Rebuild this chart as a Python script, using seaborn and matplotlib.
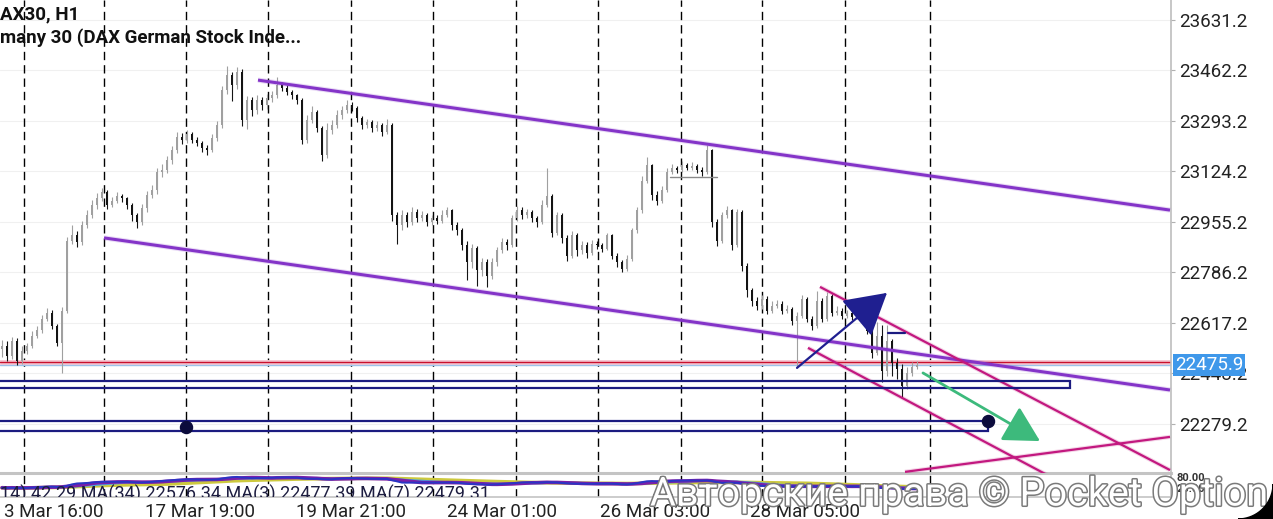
import numpy as np
import pandas as pd
import matplotlib
matplotlib.use("Agg")
import matplotlib.pyplot as plt
import matplotlib.patheffects as pe
from matplotlib.patches import Rectangle, Polygon
import seaborn as sns

# DAX30 H1 candles, one value per bar
first_open = 22530
close = [22541, 22508, 22558, 22491, 22524, 22541, 22575, 22593, 22632, 22652,
         22608, 22551, 22659, 22893, 22910, 22887, 22944, 22977, 23011, 23034,
         23054, 23011, 23027, 23041, 23034, 23011, 22977, 22954, 23001, 23044,
         23061, 23121, 23128, 23161, 23195, 23239, 23229, 23249, 23229, 23219,
         23202, 23195, 23235, 23279, 23396, 23447, 23413, 23457, 23296, 23363,
         23329, 23363, 23346, 23369, 23379, 23413, 23403, 23390, 23379, 23363,
         23229, 23296, 23323, 23269, 23178, 23262, 23279, 23312, 23329, 23346,
         23336, 23302, 23279, 23289, 23269, 23279, 23255, 23279, 22977, 22944,
         22977, 22954, 22987, 22967, 22977, 22954, 22967, 22960, 22980, 22994,
         22944, 22927, 22877, 22820, 22867, 22793, 22820, 22776, 22820, 22860,
         22887, 22877, 22967, 22994, 22977, 22987, 22967, 22954, 23011, 23041,
         22920, 22977, 22900, 22843, 22910, 22860, 22877, 22853, 22883, 22877,
         22866, 22910, 22843, 22820, 22799, 22833, 22927, 22994, 23094, 23145,
         23044, 23027, 23061, 23121, 23135, 23128, 23145, 23135, 23141, 23128,
         23121, 23195, 22954, 22893, 22977, 22994, 22877, 22987, 22809, 22726,
         22692, 22675, 22699, 22659, 22675, 22682, 22659, 22665, 22625, 22642,
         22699, 22632, 22608, 22692, 22632, 22709, 22652, 22659, 22642, 22652,
         22638, 22652, 22632, 22592, 22518, 22575, 22457, 22558, 22484, 22464,
         22407, 22451, 22471, 22475.9]
high = [22560, 22556, 22571, 22566, 22540, 22551, 22590, 22608, 22645, 22668,
        22660, 22615, 22672, 22905, 22945, 22925, 22960, 22995, 23030, 23052,
        23070, 23062, 23040, 23055, 23048, 23040, 23018, 22985, 23015, 23060,
        23078, 23135, 23150, 23175, 23210, 23255, 23252, 23262, 23258, 23238,
        23225, 23212, 23248, 23292, 23410, 23478, 23458, 23475, 23468, 23378,
        23372, 23380, 23372, 23385, 23392, 23440, 23425, 23412, 23398, 23385,
        23370, 23312, 23345, 23330, 23275, 23285, 23295, 23330, 23345, 23362,
        23358, 23345, 23310, 23300, 23298, 23292, 23288, 23300, 23285, 22990,
        22995, 22988, 23005, 22998, 22992, 22985, 22980, 22978, 22995, 23005,
        23000, 22955, 22935, 22890, 22880, 22875, 22835, 22830, 22835, 22872,
        22900, 22898, 22980, 23008, 23005, 22998, 22995, 22975, 23028, 23135,
        23048, 22990, 22985, 22910, 22925, 22918, 22890, 22888, 22895, 22890,
        22885, 22920, 22915, 22850, 22828, 22845, 22935, 23005, 23110, 23172,
        23150, 23060, 23075, 23135, 23148, 23142, 23158, 23152, 23155, 23150,
        23140, 23212, 23200, 22965, 22990, 23010, 23000, 23000, 22995, 22818,
        22735, 22705, 22712, 22708, 22690, 22695, 22690, 22678, 22672, 22655,
        22712, 22705, 22640, 22725, 22700, 22720, 22715, 22675, 22668, 22662,
        22660, 22665, 22660, 22640, 22600, 22620, 22610, 22610, 22565, 22500,
        22480, 22470, 22485, 22490]
low = [22505, 22490, 22497, 22478, 22480, 22512, 22533, 22566, 22585, 22625,
       22598, 22540, 22451, 22650, 22880, 22872, 22878, 22935, 22968, 23000,
       23025, 23000, 23004, 23018, 23022, 22998, 22960, 22935, 22945, 22990,
       23035, 23050, 23105, 23118, 23150, 23185, 23215, 23220, 23218, 23208,
       23190, 23180, 23188, 23225, 23270, 23385, 23360, 23400, 23275, 23265,
       23310, 23318, 23330, 23335, 23358, 23370, 23392, 23380, 23368, 23350,
       23215, 23220, 23288, 23255, 23160, 23170, 23250, 23270, 23300, 23320,
       23325, 23290, 23268, 23270, 23258, 23260, 23242, 23248, 22960, 22880,
       22930, 22940, 22945, 22955, 22958, 22942, 22945, 22948, 22952, 22972,
       22930, 22910, 22860, 22760, 22800, 22742, 22775, 22738, 22765, 22808,
       22850, 22862, 22870, 22960, 22965, 22970, 22955, 22940, 22948, 23005,
       22905, 22910, 22885, 22825, 22835, 22842, 22848, 22835, 22845, 22865,
       22855, 22860, 22830, 22805, 22788, 22792, 22825, 22918, 22985, 23085,
       23030, 23012, 23020, 23055, 23115, 23118, 23122, 23128, 23128, 23120,
       23110, 23115, 22940, 22875, 22885, 22968, 22860, 22870, 22790, 22705,
       22675, 22660, 22665, 22648, 22650, 22668, 22648, 22650, 22612, 22468,
       22635, 22620, 22595, 22600, 22620, 22625, 22640, 22645, 22630, 22635,
       22628, 22630, 22622, 22580, 22500, 22510, 22420, 22440, 22440, 22430,
       22367, 22395, 22440, 22462]

price_ticks = [23631.2, 23462.2, 23293.2, 23124.2, 22955.2, 22786.2, 22617.2, 22448.2, 22279.2]
date_ticks = [10.4, 39.6, 69.8, 100.0, 130.6, 160.6]
date_labels = ["3 Mar 16:00", "17 Mar 19:00", "19 Mar 21:00", "24 Mar 01:00", "26 Mar 03:00", "28 Mar 05:00"]
session_lines = [4.4, 20.4, 36.8, 53.2, 69.8, 86.2, 102.8, 119.2, 135.8, 152.0, 168.6, 185.6]

last_price = 22475.9
ask_price = 22487.0

# user drawings, (bar, price) end points
upper_channel = [(51.2, 23430), (233.6, 22995)]
lower_channel = [(20.4, 22902), (233.6, 22393)]
down_line_a = [(163.6, 22738), (233.6, 22125)]
down_line_b = [(161.2, 22534), (210.0, 22100)]
up_line = [(180.6, 22119), (233.6, 22236)]
zone_a = [(-2, 22400), (213.6, 22423)]
zone_b = [(-2, 22256), (197.2, 22289)]
dots = [(36.8, 22269), (197.2, 22289)]
blue_arrow = [(159.0, 22467), (177.0, 22718)]
green_arrow = [(184.2, 22450), (207.6, 22222)]
grey_level = [(133.6, 23106), (143.0, 23106)]
navy_level = [(177.2, 22584), (180.6, 22584)]

sns.set_theme(style="white")
plt.rcParams['font.family'] = ['Roboto', 'DejaVu Sans']
plt.rcParams['lines.scale_dashes'] = False

bars = np.arange(len(close))
df = pd.DataFrame({'bar': bars, 'open': [first_open] + close[:-1],
                   'high': high, 'low': low, 'close': close})
up = df['close'] >= df['open']
col = np.where(up, '#a0a0a0', '#141414')

W, H = 1273, 519
fig = plt.figure(figsize=(W / 100, H / 100), dpi=100)
ax = fig.add_axes([0, 1 - 473 / H, 1171 / W, 473 / H])
ax_ind = fig.add_axes([0, 1 - 497 / H, 1171 / W, 24 / H], sharex=ax)

# session separators
for b in session_lines:
    ax.axvline(b, color='black', lw=1.0, dashes=(6, 3.6), zorder=1)
    ax_ind.axvline(b, color='black', lw=1.0, dashes=(6, 3.6), zorder=1)

ax.grid(axis='y', color='#f0f0f0', lw=0.8)

# candles
ax.vlines(df['bar'], df['low'], df['high'], colors=col, lw=0.8, zorder=3)
ax.bar(df['bar'], (df['close'] - df['open']).abs().clip(lower=3),
       bottom=np.minimum(df['open'], df['close']), width=0.55,
       color=col, linewidth=0, zorder=3)

# price lines
ax.axhline(ask_price, color='#f6c6d2', lw=3.5, zorder=1.5)
ax.axhline(ask_price, color='#c8102e', lw=1.0, zorder=2)
ax.axhline(last_price, color='#9cc3ea', lw=1.0, zorder=2)

# channels and trend lines
for seg, c, w in [(upper_channel, '#8434c8', 2.2), (lower_channel, '#8434c8', 2.2),
                  (down_line_a, '#c2187f', 1.6), (down_line_b, '#c2187f', 1.6),
                  (up_line, '#c2187f', 1.6)]:
    xs, ys = zip(*seg)
    ax.plot(xs, ys, color=c, lw=w + 1.5, alpha=0.18, zorder=4, solid_capstyle='butt')
    ax.plot(xs, ys, color=c, lw=w, zorder=4, solid_capstyle='butt')

for (x0, y0), (x1, y1) in [zone_a, zone_b]:
    ax.add_patch(Rectangle((x0, y0), x1 - x0, y1 - y0, fill=False,
                           edgecolor='#1b1b80', lw=1.6, zorder=5))
dx, dy = zip(*dots)
ax.scatter(dx, dy, s=75, color='#0b0b3c', zorder=6)

xs, ys = zip(*grey_level)
ax.plot(xs, ys, color='#8a8a8a', lw=1.0, zorder=4)
xs, ys = zip(*navy_level)
ax.plot(xs, ys, color='#1b1b80', lw=1.6, zorder=4)

ax.annotate('', xy=blue_arrow[1], xytext=blue_arrow[0],
            arrowprops=dict(arrowstyle='-|>,head_length=1.3,head_width=0.75',
                            color='#1f1f90', lw=1.6, mutation_scale=20,
                            shrinkA=0, shrinkB=0), zorder=7)
ax.annotate('', xy=green_arrow[1], xytext=green_arrow[0],
            arrowprops=dict(arrowstyle='-|>,head_length=1.1,head_width=0.6',
                            color='#3dba7c', lw=2.0, mutation_scale=20,
                            shrinkA=0, shrinkB=0), zorder=7)

ax.set_xlim(-0.4, 233.8)
ax.set_ylim(22115.2, 23698.1)

ax.yaxis.tick_right()
ax.set_yticks(price_ticks)
ax.set_yticklabels([f"{p:.1f}" for p in price_ticks])
ax.tick_params(axis='y', length=3, width=0.8, color='#b0b0b0', labelsize=13.5,
               labelcolor='#222222', pad=3)
ax.tick_params(axis='x', bottom=False, labelbottom=False)
for s in ['top', 'left']:
    ax.spines[s].set_visible(False)
ax.spines['right'].set_color('#bdbdbd')
ax.spines['right'].set_linewidth(1.2)
ax.spines['bottom'].set_color('#c4c4c4')
ax.spines['bottom'].set_linewidth(2.2)

ax.annotate(f"{last_price:.1f}", xy=(1, last_price), xycoords=('axes fraction', 'data'),
            xytext=(3, 0), textcoords='offset points', ha='left', va='center',
            color='white', fontsize=13.5,
            bbox=dict(boxstyle='square,pad=0.1', fc='#3f98ea', ec='none'),
            annotation_clip=False, zorder=10)

# indicator sub-window with moving averages
ma = pd.DataFrame({'bar': bars,
                   'MA14': df['close'].rolling(14, min_periods=1).mean(),
                   'MA34': df['close'].rolling(34, min_periods=1).mean(),
                   'MA3': df['close'].rolling(3, min_periods=1).mean(),
                   'MA7': df['close'].rolling(7, min_periods=1).mean()})
sns.lineplot(data=ma, x='bar', y='MA34', ax=ax_ind, color='#cdc93e', lw=2.6)
sns.lineplot(data=ma, x='bar', y='MA14', ax=ax_ind, color='#4aa6e0', lw=1.4)
sns.lineplot(data=ma, x='bar', y='MA7', ax=ax_ind, color='#7a1fa8', lw=2.6)
sns.lineplot(data=ma, x='bar', y='MA3', ax=ax_ind, color='#2a35c4', lw=1.4)
ax_ind.set_ylim(21770, 23765)
ax_ind.set_ylabel('')
ax_ind.set_xlabel('')
ax_ind.set_yticks([])
ax_ind.text(0.0, -0.3, "14) 42.29 MA(34) 22576.34 MA(3) 22477.39 MA(7) 22479.31",
            transform=ax_ind.transAxes, fontsize=13, color='#1d1d40',
            va='bottom', ha='left', clip_on=True)
ax_ind.text(1.005, 0.8, "80.00", transform=ax_ind.transAxes, fontsize=8,
            fontweight='bold', color='#333333', va='center')
ax_ind.text(1.005, 0.35, "20.00", transform=ax_ind.transAxes, fontsize=8,
            fontweight='bold', color='#333333', va='center')
ax_ind.set_xticks(date_ticks)
ax_ind.set_xticklabels(date_labels)
ax_ind.tick_params(axis='x', length=0, labelsize=13.5, labelcolor='#222222', pad=4)
ax_ind.set_xlim(-0.4, 233.8)
for s in ['top', 'left']:
    ax_ind.spines[s].set_visible(False)
ax_ind.spines['right'].set_color('#bdbdbd')
ax_ind.spines['bottom'].set_color('#c4c4c4')
ax_ind.spines['bottom'].set_linewidth(1.2)
ax_ind.patch.set_alpha(0)

# titles
fig.text(0, 1 - 14 / H, "AX30, H1", fontsize=13.5, fontweight='bold', color='#111111', va='center')
fig.text(0, 1 - 38 / H, "many 30 (DAX German Stock Inde...", fontsize=13.5,
         fontweight='bold', color='#111111', va='center')

# watermark
fig.text(650 / W, 1 - 494 / H, "Авторские права © Pocket Option", fontsize=28.5,
         color='white', va='center', ha='left', zorder=20,
         path_effects=[pe.withStroke(linewidth=2.2, foreground='#7a7a7a')])

# rounded screen corner
t = np.linspace(0, np.pi / 2, 20)
arc = [((1238 + 35 * np.sin(a)) / W, 1 - (484 + 35 * np.cos(a)) / H) for a in t]
fig.patches.append(Polygon([(1, 0)] + arc[::-1] + [(1, 0)], closed=True,
                           transform=fig.transFigure, color='black', zorder=30))

fig.savefig("out.png", dpi=100)
